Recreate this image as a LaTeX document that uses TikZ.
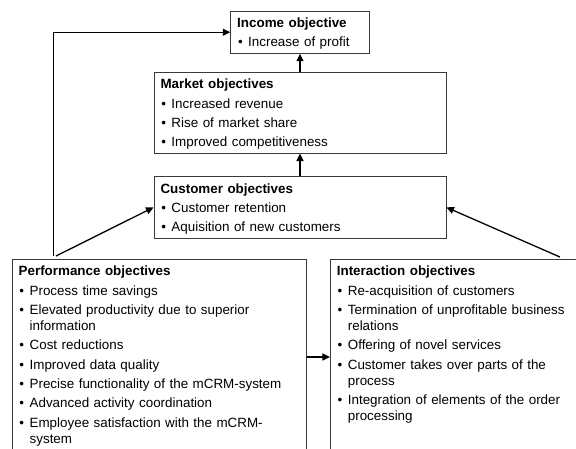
\documentclass[tikz,border=0pt]{standalone}
\usepackage{fontspec}
\setmainfont{Liberation Sans}
\usepackage{tikz}
\usetikzlibrary{positioning,arrows.meta}
\definecolor{objline}{HTML}{3A3A3A}
\newcommand{\objitem}[1]{\par\prevdepth=\dp\strutbox\vskip3.3pt\noindent\hbox to 11pt{\hskip0.8pt\textbullet\hfil}\parbox[t]{\dimexpr\linewidth-11pt\relax}{\raggedright #1\strut}}
\newcommand{\objtitle}[1]{\noindent\rule{0pt}{15pt}\textbf{#1}\strut}

\begin{document}
\begin{tikzpicture}[
  x=1pt, y=-1pt,
  font=\fontsize{13.4pt}{16pt}\selectfont,
  box/.style={draw=objline, line width=0.9pt, fill=white, align=left, inner xsep=6.5pt, inner ysep=1.5pt},
  open/.style={box, text depth=200pt},
  arr/.style={-{Triangle[length=7.5pt,width=7pt]}, line width=1.3pt, draw=black}
]
\useasboundingbox (0,0) rectangle (576,448);
\clip (0,0) rectangle (576,448);

\node[box, text width=125.6pt, anchor=north] (income) at (300,10.7)
  {\objtitle{Income objective}\objitem{Increase of profit}};
\node[box, text width=279pt, below=18.3pt of income] (market)
  {\objtitle{Market objectives}\objitem{Increased revenue}\objitem{Rise of market share}\objitem{Improved competitiveness}};
\node[box, text width=279pt, below=22.6pt of market] (customer)
  {\objtitle{Customer objectives}\objitem{Customer retention}\objitem{Aquisition of new customers}};

\node[open, text width=281pt, anchor=north west] (perf) at (11.7,259)
  {\objtitle{Performance objectives}\objitem{Process time savings}\objitem{Elevated productivity due to superior\\information}\objitem{Cost reductions}\objitem{Improved data quality}\objitem{Precise functionality of the mCRM-system}\objitem{Advanced activity coordination}\objitem{Employee satisfaction with the mCRM-\\system}};
\node[open, text width=260pt, right=23.3pt of perf.north east, anchor=north west] (inter)
  {\objtitle{Interaction objectives}\objitem{Re-acquisition of customers}\objitem{Termination of unprofitable business\\relations}\objitem{Offering of novel services}\objitem{Customer takes over parts of the\\process}\objitem{Integration of elements of the order\\processing}};

\coordinate (perfup) at ([xshift=41.6pt,yshift=3pt]perf.north west);
\coordinate (perfdiag) at ([xshift=44.3pt,yshift=3pt]perf.north west);
\coordinate (interdiag) at ([xshift=230pt,yshift=2pt]inter.north west);

\draw[arr] (customer) -- (market);
\draw[arr] (market) -- (income);
\draw[arr] (perfup) |- (income.west);
\draw[arr] (perfdiag) -- (customer.west);
\draw[arr] (interdiag) -- (customer.east);
\draw[arr] ([yshift=-98pt]perf.north east) -- ([yshift=-98pt]inter.north west);
\end{tikzpicture}
\end{document}
